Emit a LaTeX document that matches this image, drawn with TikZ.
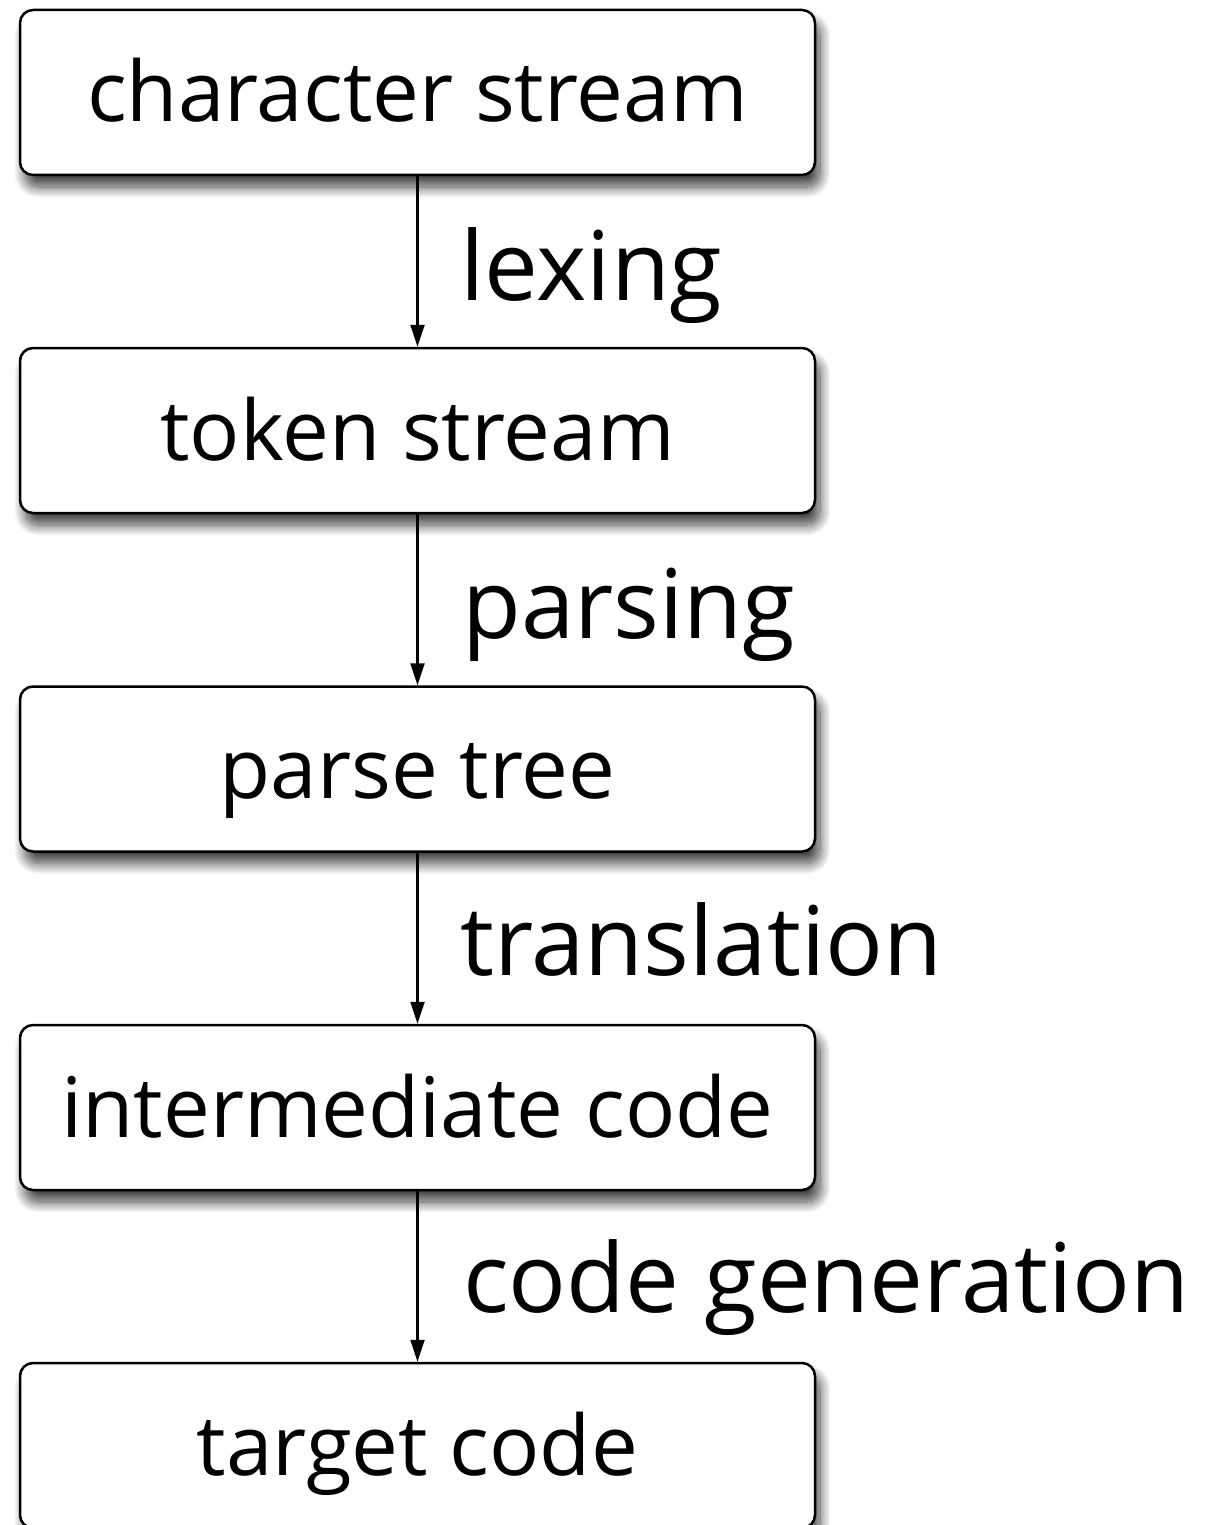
\documentclass[tikz,border=0pt]{standalone}
\usepackage{fontspec}
\setmainfont{Open Sans}
\usetikzlibrary{arrows.meta,shadows.blur}
\tikzset{
  stagebox/.style={draw=black, line width=2.5pt, fill=white, rounded corners=13pt,
    minimum width=795pt, minimum height=165pt, inner sep=0pt,
    text height=59pt, text depth=0pt,
    font=\fontsize{83.5}{90}\selectfont,
    blur shadow={shadow xshift=5pt, shadow yshift=-12pt, shadow blur steps=14, shadow blur radius=11pt, shadow opacity=75}},
  steplabel/.style={anchor=base west, inner sep=0pt, font=\fontsize{96}{104}\selectfont},
  flowarrow/.style={line width=2.3pt, -{Triangle[length=22pt,width=14pt]}}
}
\begin{document}
\begin{tikzpicture}[x=1pt,y=-1pt]
\useasboundingbox (0,0) rectangle (1205,1525);
\node[stagebox] (b1) at (417.5,92.5) {character stream};
\node[stagebox] (b2) at (417.5,430.5) {token stream};
\node[stagebox] (b3) at (417.5,769) {parse tree};
\node[stagebox] (b4) at (417.5,1107.5) {intermediate code};
\node[stagebox] (b5) at (417.5,1445.5) {target code};
\draw[flowarrow] (b1.south) -- (b2.north);
\draw[flowarrow] (b2.south) -- (b3.north);
\draw[flowarrow] (b3.south) -- (b4.north);
\draw[flowarrow] (b4.south) -- (b5.north);
\node[steplabel] (l1) at (460,300) {lexing};
\node[steplabel] (l2) at (462,638) {parsing};
\node[steplabel] (l3) at (460,975) {translation};
\node[steplabel] (l4) at (463,1312) {code generation};
\end{tikzpicture}
\end{document}
